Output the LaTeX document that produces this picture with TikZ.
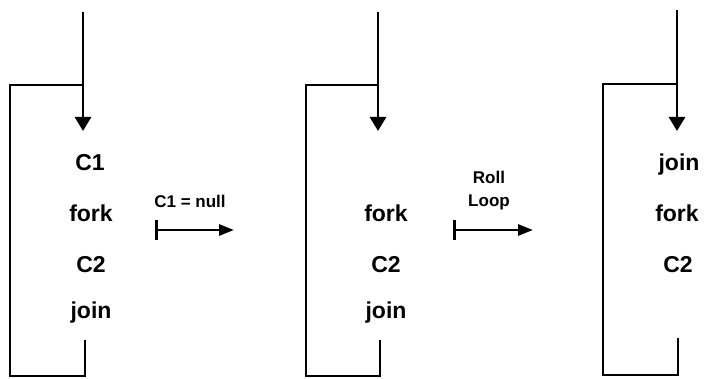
\documentclass[tikz,border=0pt]{standalone}
\usepackage{fontspec}
\setmainfont{Liberation Sans}
\usetikzlibrary{arrows.meta}
\begin{document}
\begin{tikzpicture}[x=1pt,y=-1pt,
  wire/.style={line width=2.9pt},
  down/.style={line width=2.9pt,-{Triangle[length=14pt,width=16pt]}},
  trans/.style={line width=2.9pt,{Bar[width=20pt]}-{Triangle[length=15pt,width=11pt]}},
  big/.style={font=\fontsize{23}{27}\selectfont\bfseries, anchor=base, inner sep=0pt},
  small/.style={font=\fontsize{17}{20}\selectfont\bfseries, anchor=base, inner sep=0pt}]
\useasboundingbox (0,0) rectangle (714,379);
% ---------- panel 1
\coordinate (t1) at (83,12);
\coordinate (h1) at (83,131);
\coordinate (j1) at (83,85);
\coordinate (s1) at (85,340);
\coordinate (c1) at (10,376);
\draw[down] (t1) -- (h1);
\draw[wire] (s1) |- (c1) |- (j1);
\node[big] (p1a) at (90,171) {C1};
\node[big] (p1b) at (91,222) {fork};
\node[big] (p1c) at (91,272) {C2};
\node[big] (p1d) at (91,318) {join};
% ---------- transition 1
\coordinate (a1s) at (155,230);
\coordinate (a1e) at (234,230);
\draw[trans] (a1s) -- (a1e);
\node[small] (l1) at (190,208) {C1 = null};
% ---------- panel 2
\coordinate (t2) at (378,12);
\coordinate (h2) at (378,131);
\coordinate (j2) at (378,85);
\coordinate (s2) at (380,340);
\coordinate (c2) at (306,376);
\draw[down] (t2) -- (h2);
\draw[wire] (s2) |- (c2) |- (j2);
\node[big] (p2b) at (386,222) {fork};
\node[big] (p2c) at (386,272) {C2};
\node[big] (p2d) at (386,318) {join};
% ---------- transition 2
\coordinate (a2s) at (453,230);
\coordinate (a2e) at (533,230);
\draw[trans] (a2s) -- (a2e);
\node[small] (l2a) at (489,184) {Roll};
\node[small] (l2b) at (489,207) {Loop};
% ---------- panel 3
\coordinate (t3) at (677,10);
\coordinate (h3) at (677,131);
\coordinate (j3) at (677,84);
\coordinate (s3) at (678,338);
\coordinate (c3) at (603,375);
\draw[down] (t3) -- (h3);
\draw[wire] (s3) |- (c3) |- (j3);
\node[big] (p3a) at (679,171) {join};
\node[big] (p3b) at (677,222) {fork};
\node[big] (p3c) at (678,272) {C2};
\end{tikzpicture}
\end{document}
